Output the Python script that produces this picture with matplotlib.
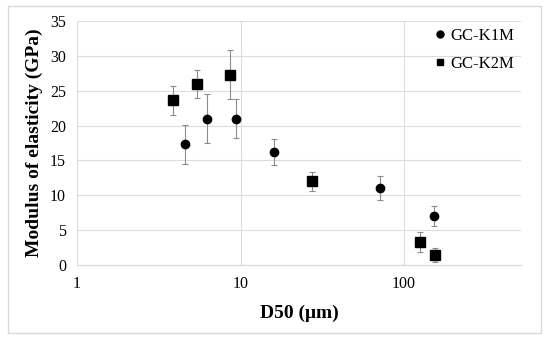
import matplotlib.pyplot as plt
from matplotlib.patches import Rectangle
from matplotlib.lines import Line2D

# GC-K1M (circles)
d50_k1m = [4.6, 6.2, 9.4, 16.0, 71.0, 152.0]
e_k1m = [17.3, 21.0, 21.0, 16.2, 11.0, 7.0]
err_k1m = [2.75, 3.55, 2.8, 1.9, 1.7, 1.4]

# GC-K2M (squares)
d50_k2m = [3.86, 5.4, 8.6, 27.5, 126.0, 154.0]
e_k2m = [23.6, 26.0, 27.3, 12.0, 3.3, 1.45]
err_k2m = [2.1, 2.0, 3.5, 1.4, 1.5, 1.0]

plt.rcParams['font.family'] = ['Liberation Serif', 'DejaVu Serif']

fig = plt.figure(figsize=(5.5, 3.42), dpi=100)
ax = fig.add_axes([0.14, 0.225, 0.807, 0.714])

fig.patches.append(Rectangle((8 / 550, 1 - 333 / 342), 533 / 550, 327 / 342,
                             transform=fig.transFigure, fill=False,
                             edgecolor='#d9d9d9', linewidth=1))

ax.errorbar(d50_k1m, e_k1m, yerr=err_k1m, fmt='o', color='black', markersize=6,
            ecolor='#8c8c8c', elinewidth=0.8, capsize=2, capthick=0.8, zorder=3)
ax.errorbar(d50_k2m, e_k2m, yerr=err_k2m, fmt='s', color='black', markersize=6.5,
            ecolor='#8c8c8c', elinewidth=0.8, capsize=2, capthick=0.8, zorder=3)

ax.set_xscale('log')
ax.set_xlim(1, 518)
ax.set_ylim(0, 35)
ax.set_xticks([1, 10, 100])
ax.set_xticklabels(['1', '10', '100'])
ax.set_yticks(range(0, 36, 5))
ax.minorticks_off()
ax.tick_params(length=0, labelsize=11.5, pad=8)
ax.grid(True, color='#dddddd', linewidth=0.8)
ax.set_axisbelow(True)
for s in ['top', 'right', 'left']:
    ax.spines[s].set_visible(False)
ax.spines['bottom'].set_color('#d9d9d9')

ax.set_xlabel('D50 (μm)', fontsize=14, fontweight='bold', labelpad=9)
ax.set_ylabel('Modulus of elasticity (GPa)', fontsize=14, fontweight='bold', labelpad=5)

handles = [Line2D([], [], marker='o', color='black', linestyle='none', markersize=5),
           Line2D([], [], marker='s', color='black', linestyle='none', markersize=5)]
ax.legend(handles, ['GC-K1M', 'GC-K2M'], loc='upper right', frameon=False,
          fontsize=12, handletextpad=0.1, handlelength=1.0, borderaxespad=0.3,
          borderpad=0.1, labelspacing=0.75)

fig.savefig('out.png', dpi=100)
